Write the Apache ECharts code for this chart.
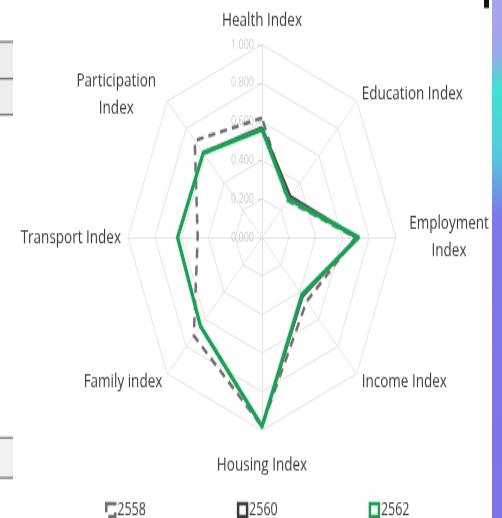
<!DOCTYPE html>
<html>
<head>
<meta charset="utf-8">
<script src="https://cdn.jsdelivr.net/npm/echarts@6/dist/echarts.min.js"></script>
<style>
html,body{margin:0;padding:0;background:#fff;overflow:hidden;width:502px;height:518px;}
#chart{width:502px;height:360px;transform:scaleY(1.4389);transform-origin:0 0;}
</style>
</head>
<body>
<div id="chart"></div>
<script>
// ---- data (clockwise from top) ----
const categories = ['Health Index','Education Index','Employment Index','Income Index','Housing Index','Family index','Transport Index','Participation Index'];
const seriesNames = ['2558','2560','2562'];
const values2558 = [0.62, 0.27, 0.70, 0.47, 0.98, 0.72, 0.48, 0.71];
const values2560 = [0.57, 0.30, 0.71, 0.43, 0.98, 0.65, 0.63, 0.62];
const values2562 = [0.56, 0.28, 0.72, 0.42, 0.98, 0.65, 0.63, 0.62];
const axisMin = 0, axisMax = 1, axisStep = 0.2;

const SY = 1.4389;
const FONT = '"Open Sans", "Noto Sans", sans-serif';
const chart = echarts.init(document.getElementById('chart'));

// ECharts radar runs counter-clockwise: reorder so the picture runs clockwise
const order = categories.map((_, i) => (categories.length - i) % categories.length);
const cw = arr => order.map(i => arr[i]);

const indicator = cw(categories).map((c, i) => {
  const o = { name: c, min: axisMin, max: axisMax };
  if (i === 0) {
    o.axisLabel = { show: true, color: '#cdcdcd', fontSize: 9, fontFamily: FONT, margin: 8,
      formatter: v => Number(v).toFixed(3) };
    o.axisTick = { show: true, length: 4, lineStyle: { color: '#d9d9d9' } };
  }
  return o;
});

chart.setOption({
  animation: false,
  textStyle: { fontFamily: FONT },
  radar: {
    center: [262, 165],
    radius: 134,
    startAngle: 90,
    splitNumber: (axisMax - axisMin) / axisStep,
    shape: 'polygon',
    indicator: indicator,
    nameGap: 7,
    axisName: {
      color: '#3a3a3a', fontSize: 13.5, fontFamily: FONT,
      formatter: function (name) {
        if (name === 'Employment Index') return '{c|Employment}\n{c|Index}';
        if (name === 'Participation Index') return '{c|Participation}\n{c|Index}';
        if (name === 'Housing Index') return '{h|Housing Index}';
        if (name === 'Health Index') return '{t|Health Index}';
        return name;
      },
      rich: {
        c: { width: 92, align: 'center', fontSize: 13.5, color: '#3a3a3a', lineHeight: 19, fontFamily: FONT },
        h: { fontSize: 13.5, color: '#3a3a3a', fontFamily: FONT, padding: [10, 0, 0, 0] },
        t: { fontSize: 13.5, color: '#3a3a3a', fontFamily: FONT, padding: [0, 0, 3, 0] }
      }
    },
    axisLine: { lineStyle: { color: '#e3e3e3', width: 1 } },
    splitLine: { lineStyle: { color: '#e3e3e3', width: 1 } },
    splitArea: { show: false },
    axisLabel: { show: false },
    axisTick: { show: false }
  },
  legend: {
    data: seriesNames.map((n, i) => ({
      name: n,
      icon: 'rect',
      itemStyle: {
        color: '#ffffff',
        borderColor: ['#6f6f6f', '#3c3c3c', '#1f9d55'][i],
        borderWidth: 2.5,
        borderType: i === 0 ? 'dashed' : 'solid'
      }
    })),
    left: 100,
    top: 343,
    itemWidth: 9,
    itemHeight: 9,
    itemGap: 91,
    textStyle: { color: '#3a3a3a', fontSize: 12.5, fontFamily: FONT, padding: [0, 0, 0, -3] }
  },
  series: [{
    type: 'radar',
    symbol: 'none',
    data: [
      { name: seriesNames[0], value: cw(values2558),
        lineStyle: { color: '#707070', width: 2.5, type: [7, 5] }, itemStyle: { color: '#707070' } },
      { name: seriesNames[1], value: cw(values2560),
        lineStyle: { color: '#3a3a3a', width: 2.5 }, itemStyle: { color: '#3a3a3a' } },
      { name: seriesNames[2], value: cw(values2562),
        lineStyle: { color: '#1f9d55', width: 3, shadowColor: 'rgba(80,220,140,0.7)', shadowBlur: 2 }, itemStyle: { color: '#1f9d55' } }
    ]
  }],
  graphic: [
    { type: 'rect', shape: { x: 492, y: 0, width: 10, height: 518 / SY },
      style: { fill: new echarts.graphic.LinearGradient(0, 0, 0, 1, [
        { offset: 0, color: '#aaa3ec' }, { offset: 0.1, color: '#9fa6ec' },
        { offset: 0.17, color: '#3fe3d2' }, { offset: 0.3, color: '#56c8dc' },
        { offset: 0.42, color: '#7d78ea' }, { offset: 1, color: '#7f73ea' }]) } },
    { type: 'rect', shape: { x: 484, y: 0, width: 5, height: 8 / SY }, style: { fill: '#111' } },
    { type: 'rect', shape: { x: 0, y: 42 / SY, width: 13, height: 73 / SY }, style: { fill: '#ededed' } },
    { type: 'rect', shape: { x: 0, y: 41 / SY, width: 13, height: 1.5 / SY }, style: { fill: '#555' } },
    { type: 'rect', shape: { x: 0, y: 78 / SY, width: 13, height: 1.5 / SY }, style: { fill: '#555' } },
    { type: 'rect', shape: { x: 0, y: 114 / SY, width: 13, height: 1.5 / SY }, style: { fill: '#555' } },
    { type: 'rect', shape: { x: 0, y: 438 / SY, width: 13, height: 40 / SY }, style: { fill: '#f0f0f0' } },
    { type: 'rect', shape: { x: 0, y: 437 / SY, width: 13, height: 1.5 / SY }, style: { fill: '#555' } },
    { type: 'rect', shape: { x: 0, y: 477 / SY, width: 13, height: 1.5 / SY }, style: { fill: '#555' } }
  ]
});
</script>
</body>
</html>
